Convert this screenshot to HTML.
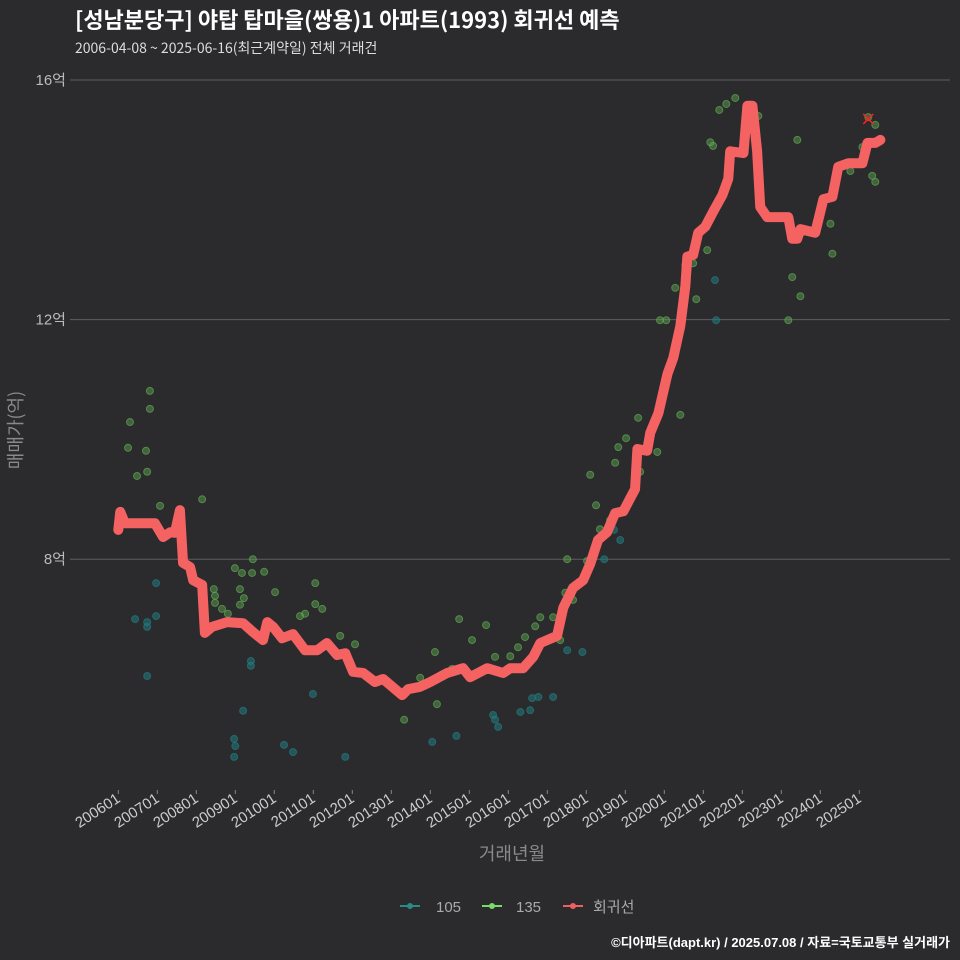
<!DOCTYPE html>
<html><head><meta charset="utf-8">
<style>
body{margin:0;background:#2b2a2d;}
svg{display:block;font-family:"Liberation Sans","Noto Sans CJK KR",sans-serif;}
</style></head>
<body>
<svg id="chart" width="960" height="960" viewBox="0 0 960 960" xmlns="http://www.w3.org/2000/svg">
<rect width="960" height="960" fill="#2b2a2d"/>
<text x="75" y="28" fill="#ffffff" font-size="22" font-weight="bold" style="font-family:'Noto Sans CJK KR',sans-serif">[성남분당구] 야탑 탑마을(쌍용)1 아파트(1993) 회귀선 예측</text>
<text x="75" y="53" fill="#dddddd" font-size="14" style="font-family:'Noto Sans CJK KR',sans-serif">2006-04-08 ~ 2025-06-16(최근계약일) 전체 거래건</text>
<text transform="translate(22,430) rotate(-90)" text-anchor="middle" fill="#8a8a8a" font-size="18" style="font-family:'Noto Sans CJK KR',sans-serif">매매가(억)</text>
<text x="512" y="860" text-anchor="middle" fill="#8a8a8a" font-size="18" style="font-family:'Noto Sans CJK KR',sans-serif">거래년월</text>
<g id="grid"></g><g id="pts"></g><g id="line"></g><g id="xt"></g>
<g>
<g><line x1="400" y1="906" x2="420" y2="906" stroke="#2a8a8a" stroke-width="2"/><circle cx="410" cy="906" r="3" fill="#2a8a8a"/><text x="436" y="912" fill="#aaaaaa" font-size="15">105</text></g>
<g><line x1="482" y1="906" x2="502" y2="906" stroke="#7bd86a" stroke-width="2"/><circle cx="492" cy="906" r="3" fill="#7bd86a"/><text x="516" y="912" fill="#aaaaaa" font-size="15">135</text></g>
<g><line x1="563" y1="906" x2="583" y2="906" stroke="#f06060" stroke-width="2"/><circle cx="573" cy="906" r="3" fill="#f06060"/><text x="593" y="912" fill="#aaaaaa" font-size="15">회귀선</text></g>
</g>
<text x="950" y="947" text-anchor="end" fill="#ffffff" font-size="13" font-weight="bold">©디아파트(dapt.kr) / 2025.07.08 / 자료=국토교통부 실거래가</text>
</svg>
<script>
const yTicks=[8,12,16];
const xTickYears=[2006,2007,2008,2009,2010,2011,2012,2013,2014,2015,2016,2017,2018,2019,2020,2021,2022,2023,2024,2025];
const lineT=[2006.0,2006.05,2006.17,2006.94,2007.15,2007.33,2007.45,2007.58,2007.66,2007.84,2007.92,2008.15,2008.22,2008.40,2008.79,2009.20,2009.46,2009.71,2009.82,2009.97,2010.20,2010.48,2010.79,2011.10,2011.35,2011.61,2011.82,2012.02,2012.28,2012.58,2012.79,2013.28,2013.43,2013.74,2014.00,2014.43,2014.84,2015.02,2015.46,2015.87,2016.05,2016.38,2016.64,2016.82,2017.25,2017.41,2017.66,2017.92,2018.10,2018.30,2018.53,2018.74,2018.95,2019.25,2019.31,2019.56,2019.64,2019.85,2020.08,2020.23,2020.41,2020.54,2020.59,2020.74,2020.87,2021.05,2021.26,2021.49,2021.64,2021.69,2022.03,2022.13,2022.26,2022.38,2022.46,2022.64,2023.18,2023.28,2023.41,2023.49,2023.87,2024.08,2024.31,2024.46,2024.72,2025.08,2025.21,2025.41,2025.54];
const lineV=[8.49,8.79,8.60,8.60,8.37,8.45,8.44,8.82,7.94,7.87,7.65,7.57,6.77,6.87,6.95,6.93,6.78,6.65,6.95,6.87,6.68,6.75,6.48,6.48,6.60,6.40,6.43,6.12,6.10,5.95,6.00,5.73,5.83,5.87,5.95,6.10,6.18,6.03,6.18,6.10,6.18,6.18,6.37,6.60,6.72,7.19,7.52,7.65,7.92,8.32,8.45,8.77,8.80,9.17,9.84,9.81,10.11,10.44,11.09,11.36,11.89,12.56,13.05,13.08,13.45,13.55,13.81,14.08,14.35,14.81,14.78,15.57,15.57,14.81,13.88,13.71,13.71,13.35,13.35,13.51,13.45,14.01,14.05,14.55,14.61,14.61,14.95,14.95,15.00];
const g135T=[2006.25,2006.30,2006.48,2006.71,2006.74,2006.81,2006.81,2007.07,2008.15,2008.45,2008.48,2008.48,2008.66,2008.81,2008.99,2009.12,2009.12,2009.17,2009.22,2009.45,2009.43,2009.74,2010.02,2010.66,2010.79,2011.05,2011.05,2011.23,2011.69,2012.07,2013.74,2014.12,2014.56,2014.74,2015.07,2015.43,2015.66,2016.05,2016.25,2016.43,2016.69,2016.82,2017.15,2017.33,2017.38,2017.46,2017.51,2017.66,2018.02,2018.10,2018.25,2018.35,2018.61,2018.74,2018.82,2019.02,2019.33,2019.38,2019.82,2019.89,2020.05,2020.41,2020.28,2020.54,2020.74,2020.82,2021.10,2021.18,2021.25,2021.41,2021.59,2021.82,2022.41,2023.18,2023.28,2023.41,2023.49,2024.26,2024.31,2024.77,2025.08,2025.23,2025.41,2025.33,2025.41,2013.33,2014.17];
const g135V=[9.86,10.29,9.39,9.81,9.46,10.81,10.51,8.89,9.00,7.50,7.39,7.27,7.17,7.09,7.85,7.50,7.24,7.77,7.35,8.00,7.77,7.79,7.45,7.05,7.09,7.25,7.60,7.17,6.72,6.58,6.02,6.45,6.17,7.00,6.65,6.90,6.37,6.38,6.53,6.70,6.88,7.03,7.03,6.65,7.13,7.44,8.00,7.32,7.97,9.41,8.90,8.50,8.65,9.61,9.87,10.02,10.36,9.46,9.79,11.99,11.99,10.41,12.53,12.91,12.94,12.34,13.16,14.96,14.90,15.50,15.60,15.70,15.40,11.99,12.71,15.00,12.39,13.60,13.10,14.48,14.88,15.38,15.25,14.40,14.30,5.32,5.58];
const g105T=[2006.43,2006.74,2006.74,2006.74,2006.97,2006.97,2008.97,2009.00,2008.97,2009.20,2009.40,2009.40,2010.25,2010.48,2010.99,2011.82,2014.05,2014.67,2015.61,2015.66,2015.74,2016.31,2016.56,2016.61,2016.77,2017.15,2017.51,2017.90,2018.46,2018.71,2018.87,2021.30,2021.33];
const g105V=[7.00,6.87,6.95,6.05,7.60,7.05,5.00,4.88,4.70,5.47,6.30,6.22,4.90,4.78,5.75,4.70,4.95,5.05,5.40,5.32,5.20,5.45,5.48,5.68,5.70,5.70,6.48,6.45,8.00,8.49,8.32,12.66,11.99];
const lastT=2025.23, lastV=15.35;

const NS="http://www.w3.org/2000/svg";
function X(t){return 118.3+(t-2006)*39.0;}
function Y(v){return 80+(16-v)*59.9;}
function mk(tag,attrs,parent){const e=document.createElementNS(NS,tag);for(const k in attrs)e.setAttribute(k,attrs[k]);parent.appendChild(e);return e;}
const grid=document.getElementById('grid');
yTicks.forEach(v=>{
  const l=mk('line',{x1:70,x2:950,y1:Y(v),y2:Y(v),stroke:'#5e5e5e','stroke-width':1},grid);
  
  
  const t=mk('text',{x:66,y:Y(v)+5,'text-anchor':'end',fill:'#bbbbbb','font-size':15},grid);
  t.textContent=v+'억';
  
  
});
const xt=document.getElementById('xt');
xTickYears.forEach(yr=>{
  const x=X(yr);
  const tk=mk('line',{x1:x,x2:x,y1:790,y2:794,stroke:'#888','stroke-width':1},xt);
  
  
  const t=mk('text',{transform:`translate(${x+3},${801}) rotate(-33)`,'text-anchor':'end',fill:'#cccccc','font-size':15},xt);
  t.textContent=yr+'01';
  
  
});
const pts=document.getElementById('pts');
g105T.forEach((t,i)=>{
  const c=mk('circle',{cx:X(t),cy:Y(g105V[i]),r:3.5,fill:'#227a7e','fill-opacity':0.55,stroke:'#227a7e','stroke-opacity':0.7},pts);
  
  
});
g135T.forEach((t,i)=>{
  const c=mk('circle',{cx:X(t),cy:Y(g135V[i]),r:3.5,fill:'#5fa851','fill-opacity':0.45,stroke:'#5fa851','stroke-opacity':0.7},pts);
  
  
});
const ln=document.getElementById('line');
const p=mk('polyline',{points:lineT.map((t,i)=>X(t)+','+Y(lineV[i])).join(' '),fill:'none',stroke:'#f46262','stroke-width':10,'stroke-linejoin':'round','stroke-linecap':'round'},ln);


const mx=X(lastT),my=Y(lastV);
const xm=mk('path',{d:`M${mx-5},${my-5}L${mx+5},${my+5}M${mx-5},${my+5}L${mx+5},${my-5}`,stroke:'#ff2020','stroke-width':1.5},ln);


</script>
</body></html>
